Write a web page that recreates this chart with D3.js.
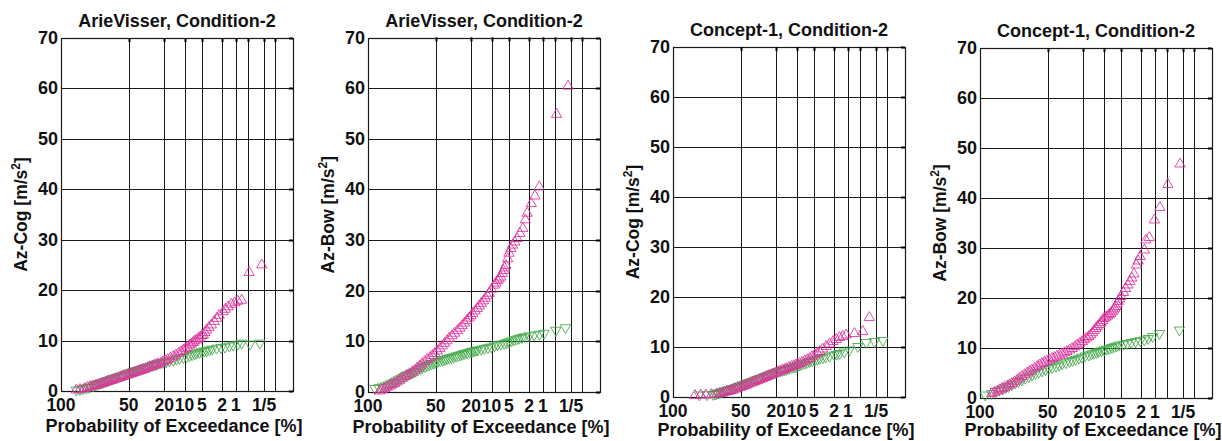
<!DOCTYPE html>
<html>
<head>
<meta charset="utf-8">
<script src="https://cdn.jsdelivr.net/npm/d3@7"></script>
<style>
  body { margin: 0; background: #fff; }
  text { font-family: "Liberation Sans", Arial, sans-serif; font-weight: bold; fill: #111; }
</style>
</head>
<body>
<div id="chart"></div>
<script>
// exceedance probability grid [%] and its labels
var xGrid = [50, 20, 10, 5, 2, 1, 0.5, 0.2, 0.1];
var xTickValues = [100, 50, 20, 10, 5, 2, 1, 0.2];
var xTickLabels = ["100", "50", "20", "10", "5", "2", "1", "1/5"];
var yTicks = [0, 10, 20, 30, 40, 50, 60, 70];

var titles = ["ArieVisser, Condition-2", "ArieVisser, Condition-2", "Concept-1, Condition-2", "Concept-1, Condition-2"];
var yNames = ["Az-Cog", "Az-Bow", "Az-Cog", "Az-Bow"];

// [exceedance %, value m/s2]
var avCogUp = [[96.5,0.2],[94.7,0.3],[92,0.5],[90,0.7],[88,0.85],[86,1.0],[84,1.1],[82,1.2],[80,1.35],[78,1.5],[76,1.6],[74,1.75],[72,1.9],[70,2.0],[68,2.1],[66,2.25],[64,2.4],[62,2.5],[59,2.7],[57,2.85],[55,3.0],[52,3.15],[50,3.3],[48,3.4],[46,3.55],[44,3.7],[42,3.8],[40,3.95],[38,4.1],[36,4.25],[34,4.4],[32,4.6],[30.4,4.8],[28.5,4.95],[27,5.1],[25.5,5.25],[24,5.4],[22,5.6],[20.7,5.8],[19.3,6.0],[18,6.2],[16.5,6.5],[15,6.8],[13.7,7.1],[12.5,7.5],[11.4,7.8],[10.5,8.1],[9.7,8.4],[9,8.7],[8.2,9.1],[7.7,9.3],[7.2,9.6],[6.8,9.9],[6.3,10.1],[5.8,10.4],[5.4,10.7],[5,11],[4.7,11.1],[4.4,11.6],[4.1,12.1],[3.7,12.6],[3.3,13.1],[2.9,13.8],[2.6,14.4],[2.3,15],[1.9,15.7],[1.7,16.2],[1.48,16.7],[1.25,17.2],[1.05,17.5],[0.9,17.8],[0.73,18],[0.48,23.5],[0.23,25]];
var avCogDn = [[96.5,0.2],[94.7,0.3],[93,0.45],[91,0.6],[89.5,0.7],[88,0.8],[85.5,1.0],[84,1.15],[82,1.3],[80,1.45],[78,1.6],[76,1.75],[74,1.9],[72,2.05],[70,2.2],[68,2.35],[66,2.5],[63,2.65],[61,2.8],[58,2.95],[56,3.1],[54,3.25],[52,3.4],[50,3.55],[48,3.7],[46,3.8],[44,3.95],[42,4.05],[40,4.2],[38,4.35],[36,4.5],[34,4.65],[32,4.8],[30,4.95],[28,5.1],[26.5,5.2],[25,5.3],[22.8,5.5],[21,5.65],[19,5.8],[17,5.95],[15,6.1],[13.5,6.3],[12,6.5],[10.5,6.65],[9.3,6.8],[8.3,7.0],[7.5,7.2],[6.8,7.35],[6.3,7.5],[5.6,7.65],[5,7.8],[4.5,7.9],[4.1,8.0],[3.6,8.15],[3.2,8.3],[2.6,8.5],[2.1,8.6],[1.74,8.7],[1.4,8.9],[1.15,9.1],[0.9,9.3],[0.73,9.5],[0.46,9.3],[0.26,9.5]];

var avBowUp = [[98,0.2],[97,0.45],[95.8,0.7],[94.5,0.95],[93,1.2],[91.5,1.45],[89.7,1.7],[88,2.0],[86,2.3],[84,2.65],[81.5,3.0],[79.5,3.3],[77,3.6],[74.5,3.95],[72,4.3],[69.5,4.7],[67,5.1],[64.5,5.55],[61.6,6.0],[59,6.4],[56,6.8],[53.5,7.2],[51,7.6],[48.5,8.1],[46,8.6],[43.5,9.1],[41.3,9.6],[39,10.1],[37,10.6],[34.5,11.1],[32.4,11.6],[30,12.1],[28,12.6],[26.3,13.1],[24.6,13.6],[23,14.1],[21.5,14.6],[20.2,15.05],[19.1,15.5],[17.7,16.0],[16.5,16.5],[15.4,17.0],[14.5,17.5],[13.4,18.0],[12.5,18.5],[11.7,19.0],[10.9,19.5],[10,20.3],[9,21.1],[8.5,21.5],[8,22],[7.5,22.3],[7,22.7],[6.6,23.4],[6.3,24],[6,24.5],[5.7,25],[5.3,26.3],[5,27.4],[4.6,28.3],[4.3,29],[3.9,29.6],[3.5,30.3],[3.1,31.3],[2.7,32.3],[2.4,34],[2.2,35.3],[1.8,37.2],[1.5,38.7],[1.2,40.5],[0.47,54.8],[0.24,60.4]];
var avBowDn = [[99.3,0.7],[98.2,0.85],[97,1.0],[95.5,1.2],[94,1.4],[92.3,1.65],[90.5,1.9],[89,2.15],[87.2,2.4],[85,2.7],[83,3.0],[81,3.2],[79,3.4],[77,3.55],[75.2,3.7],[73,3.9],[71,4.1],[68.5,4.35],[66,4.6],[64,4.8],[61.6,5.0],[59,5.2],[57,5.4],[54.5,5.55],[52,5.7],[50,5.85],[47.9,6.0],[45.5,6.15],[43,6.3],[41,6.45],[39,6.6],[37,6.7],[35.2,6.8],[33,6.95],[31,7.1],[29.2,7.2],[27.5,7.35],[26,7.45],[24.6,7.6],[22.8,7.75],[21,7.9],[19.7,8.0],[18.5,8.1],[17.3,8.2],[16.3,8.3],[14.5,8.45],[13,8.6],[11.5,8.75],[10.2,8.9],[9,9.1],[8,9.3],[7,9.45],[6.1,9.6],[5.5,9.75],[5,9.9],[4.5,10.1],[4,10.3],[3.6,10.45],[3.2,10.6],[2.8,10.75],[2.5,10.9],[2,11.1],[1.56,11.25],[1.2,11.4],[0.94,11.6],[0.49,12.2],[0.28,12.7]];

var c1CogUp = [[93,0.3],[89,0.4],[85,0.4],[80,0.5],[75,0.6],[71.8,0.7],[69,0.8],[67,0.95],[64.5,1.1],[62,1.2],[60,1.3],[58,1.4],[55.5,1.6],[53,1.8],[50.5,1.95],[48.5,2.1],[46.5,2.25],[44.3,2.4],[42,2.6],[40,2.8],[38,2.95],[36,3.15],[34,3.3],[32.2,3.5],[30,3.7],[28,3.9],[26.5,4.1],[25,4.3],[23.5,4.45],[22.1,4.6],[20.5,4.8],[19,5.0],[17.7,5.2],[16.5,5.35],[15.4,5.5],[14.4,5.7],[13.2,5.9],[12,6.1],[11.1,6.25],[10.3,6.4],[9.6,6.55],[8.9,6.7],[8.1,6.95],[7.3,7.2],[6.6,7.45],[6,7.7],[5.4,8.05],[4.8,8.4],[4.3,8.75],[3.9,9.1],[3.4,9.6],[2.9,10.1],[2.5,10.6],[2.1,11.1],[1.8,11.5],[1.53,11.9],[1.3,12.1],[1.09,12.4],[0.7,12.7],[0.44,13.1],[0.3,15.9]];
var c1CogDn = [[90,0.4],[84,0.45],[78.4,0.5],[76.5,0.6],[75,0.7],[73.5,0.8],[71.8,0.9],[69.5,1.05],[67,1.2],[64.5,1.35],[62,1.5],[60,1.6],[58,1.7],[55.5,1.9],[53,2.1],[50.5,2.25],[48.5,2.4],[46.5,2.55],[44.3,2.7],[42,2.9],[40,3.05],[38,3.2],[36,3.4],[34,3.55],[32.2,3.7],[30,3.9],[28,4.1],[26.5,4.25],[25,4.4],[23.5,4.55],[22.1,4.7],[20.5,4.9],[19,5.1],[17.7,5.2],[16.5,5.3],[15.4,5.4],[14.4,5.5],[13.2,5.7],[12,5.9],[11.1,6.0],[10.3,6.1],[9.6,6.25],[8.9,6.4],[8.1,6.55],[7.3,6.75],[6.6,6.9],[6,7.1],[5.4,7.25],[4.8,7.4],[4.3,7.55],[3.9,7.7],[3.4,7.85],[3,8.0],[2.5,8.2],[2,8.4],[1.75,8.55],[1.53,8.7],[1.2,9.0],[0.92,9.4],[0.58,10.1],[0.36,10.9],[0.22,11.1],[0.13,11.3]];

var c1BowUp = [[97.9,0.9],[96.8,1.15],[95.5,1.4],[94.3,1.65],[93,1.9],[91.3,2.15],[89.5,2.4],[87.7,2.65],[85.8,2.9],[83.5,3.25],[81,3.6],[79,3.95],[76.7,4.3],[74,4.65],[71.5,5.0],[69,5.3],[66.6,5.6],[63.8,5.95],[61,6.3],[58.5,6.6],[56,6.9],[53.5,7.15],[51,7.4],[48.3,7.65],[45.7,7.9],[43.3,8.1],[41,8.35],[38.5,8.55],[36.2,8.8],[34,9.05],[32,9.3],[29.8,9.6],[27.8,9.9],[25.8,10.25],[24,10.6],[22.3,10.95],[20.7,11.3],[19.3,11.65],[18,12.0],[16.8,12.3],[15.8,12.6],[14.8,13.05],[14,13.5],[13.2,13.9],[12.5,14.3],[11.7,14.7],[11,15.1],[10.4,15.5],[9.8,15.9],[9.2,16.15],[8.6,16.4],[8.1,16.65],[7.6,16.9],[7.2,17.25],[6.8,17.6],[6.5,17.95],[6.2,18.3],[5.9,18.8],[5.6,19.3],[5.3,19.8],[5,20.3],[4.5,21.1],[4.1,21.9],[3.7,22.6],[3.4,23.3],[3.1,24.0],[2.8,24.8],[2.5,26.6],[2.3,27.4],[2.1,28.3],[1.7,29.6],[1.58,31.6],[1.33,32.1],[1.02,35.6],[0.76,38.1],[0.49,42.7],[0.24,46.8]];
var c1BowDn = [[99.6,0.6],[98,0.9],[96.6,1.3],[94.6,1.55],[92.5,1.8],[90.5,2.05],[88.5,2.3],[85.8,2.65],[83,3.0],[80,3.3],[76.7,3.6],[73.3,3.95],[70,4.25],[66.5,4.6],[63,4.9],[59.5,5.15],[56,5.4],[52.5,5.65],[49,5.9],[45.5,6.1],[42,6.35],[39,6.55],[36.2,6.8],[33,7.05],[30,7.3],[27.6,7.5],[25.3,7.7],[23,7.95],[21,8.15],[18.8,8.4],[16.7,8.6],[15.3,8.8],[14,8.95],[12.9,9.1],[11.9,9.3],[10.8,9.45],[9.8,9.6],[8.9,9.75],[8.1,9.9],[7.3,10.1],[6.6,10.25],[6,10.4],[5.4,10.6],[4.5,10.75],[3.8,10.9],[3.2,11.1],[2.6,11.3],[2.1,11.45],[1.7,11.6],[1.4,11.9],[1.12,12.3],[0.78,12.9],[0.25,13.6]];

var upSeries = [avCogUp, avBowUp, c1CogUp, c1BowUp];
var dnSeries = [avCogDn, avBowDn, c1CogDn, c1BowDn];

// layout of each panel (plot box in page pixels)
var boxes = [
    {left: 61,  top: 38,   bottom: 391},
    {left: 368, top: 37.5, bottom: 392},
    {left: 673, top: 47,   bottom: 397},
    {left: 980, top: 48,   bottom: 398}
];
var plotW = 232;

// Rayleigh probability paper: u = sqrt(-ln(p))
function ray(pct) { return Math.sqrt(-Math.log(pct / 100)); }
var uMax = ray(0.03);

var svg = d3.select("#chart").append("svg")
    .attr("width", 1222)
    .attr("height", 441);

boxes.forEach(function(b, i) {
    var x = d3.scaleLinear().domain([0, uMax]).range([b.left, b.left + plotW]);
    var y = d3.scaleLinear().domain([0, 70]).range([b.bottom, b.top]);
    var g = svg.append("g");
    var right = b.left + plotW;

    // grid
    g.selectAll(".vg").data(xGrid).enter().append("line")
        .attr("x1", function(d) { return Math.round(x(ray(d))) + 0.5; })
        .attr("x2", function(d) { return Math.round(x(ray(d))) + 0.5; })
        .attr("y1", b.top).attr("y2", b.bottom)
        .style("stroke", "#1a1a1a").style("stroke-width", 1);
    g.selectAll(".hg").data(yTicks).enter().append("line")
        .attr("x1", b.left).attr("x2", right)
        .attr("y1", function(d) { return Math.round(y(d)) + 0.5; })
        .attr("y2", function(d) { return Math.round(y(d)) + 0.5; })
        .style("stroke", "#1a1a1a").style("stroke-width", 1);
    // box
    g.append("rect")
        .attr("x", b.left + 0.5).attr("y", Math.round(b.top) + 0.5)
        .attr("width", plotW).attr("height", Math.round(b.bottom) - Math.round(b.top))
        .style("fill", "none").style("stroke", "#1a1a1a").style("stroke-width", 1.2);
    // small inner ticks on top and right edges
    g.selectAll(".tt").data(xGrid).enter().append("line")
        .attr("x1", function(d) { return Math.round(x(ray(d))) + 0.5; })
        .attr("x2", function(d) { return Math.round(x(ray(d))) + 0.5; })
        .attr("y1", b.top).attr("y2", b.top + 4)
        .style("stroke", "#000").style("stroke-width", 2);
    g.selectAll(".rt").data(yTicks).enter().append("line")
        .attr("x1", right - 4).attr("x2", right)
        .attr("y1", function(d) { return Math.round(y(d)) + 0.5; })
        .attr("y2", function(d) { return Math.round(y(d)) + 0.5; })
        .style("stroke", "#000").style("stroke-width", 2);

    // tick labels
    g.selectAll(".yl").data(yTicks).enter().append("text")
        .attr("x", b.left - 3)
        .attr("y", function(d) { return y(d) + 6; })
        .attr("text-anchor", "end")
        .style("font-size", "18px")
        .text(function(d) { return d; });
    g.selectAll(".xl").data(xTickValues).enter().append("text")
        .attr("x", function(d) { return x(ray(d)); })
        .attr("y", b.bottom + 20)
        .attr("text-anchor", "middle")
        .style("font-size", "17.5px")
        .text(function(d, j) { return xTickLabels[j]; });

    // titles and axis names
    g.append("text")
        .attr("x", b.left + plotW / 2).attr("y", b.top - 11)
        .attr("text-anchor", "middle")
        .style("font-size", "18px")
        .text(titles[i]);
    g.append("text")
        .attr("x", b.left + plotW / 2 - 3).attr("y", Math.min(b.bottom + 41, 436))
        .attr("text-anchor", "middle")
        .style("font-size", "18px")
        .text("Probability of Exceedance [%]");
    var yl = g.append("text")
        .attr("transform", "translate(" + (b.left - 34) + "," + ((b.top + b.bottom) / 2) + ") rotate(-90)")
        .attr("text-anchor", "middle")
        .style("font-size", "17.5px");
    yl.append("tspan").text(yNames[i] + " [m/s");
    yl.append("tspan").attr("dy", -7).style("font-size", "12px").text("2");
    yl.append("tspan").attr("dy", 7).text("]");

    // markers
    var tri = d3.symbol().type(d3.symbolTriangle).size(46);
    g.selectAll(".dn").data(dnSeries[i]).enter().append("path")
        .attr("d", tri)
        .attr("transform", function(d) { return "translate(" + x(ray(d[0])) + "," + y(d[1]) + ") rotate(180)"; })
        .style("fill", "none").style("stroke", "#3fa847").style("stroke-width", 1).style("stroke-opacity", 0.85);
    g.selectAll(".up").data(upSeries[i]).enter().append("path")
        .attr("d", tri)
        .attr("transform", function(d) { return "translate(" + x(ray(d[0])) + "," + y(d[1]) + ")"; })
        .style("fill", "none").style("stroke", "#de2f9c").style("stroke-width", 1).style("stroke-opacity", 0.85);
});
</script>
</body>
</html>
